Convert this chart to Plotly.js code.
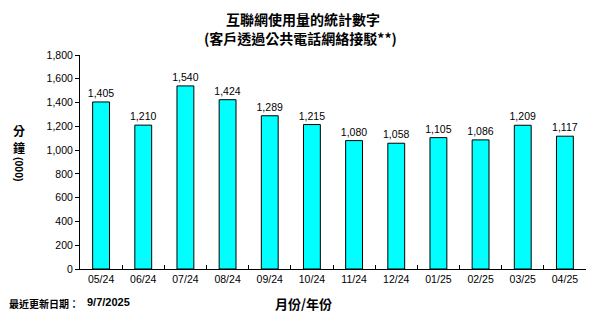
<!DOCTYPE html>
<html>
<head>
<meta charset="utf-8">
<script src="https://cdn.plot.ly/plotly-3.0.1.min.js"></script>
<style>html,body{margin:0;padding:0;background:#fff;}</style>
</head>
<body>
<div id="chart" style="width:606px;height:316px;"></div>
<script>
const months = ["05/24","06/24","07/24","08/24","09/24","10/24","11/24","12/24","01/25","02/25","03/25","04/25"];
const minutes = [1405,1210,1540,1424,1289,1215,1080,1058,1105,1086,1209,1117];
const yTicks = [0,200,400,600,800,1000,1200,1400,1600,1800];
const titleLine1 = "互聯網使用量的統計數字";
const titleLine2 = "(客戶透過公共電話網絡接駁**)";
const xTitle = "月份/年份";
const updateLabel = "最近更新日期：";
const updateDate = "9/7/2025";

const L = 80, T = 55, W = 506, H = 214;
const px = x => (x - L) / W;
const py = y => (T + H - y) / H;
const cjk = "'Noto Sans CJK TC', 'Noto Sans CJK SC', sans-serif";
const latin = "Arial, 'Liberation Sans', sans-serif";

const trace = {
  type: 'bar',
  x: months,
  y: minutes,
  marker: {color: '#00FFFF', line: {color: '#000000', width: 1}},
  text: minutes.map(v => v.toLocaleString('en-US')),
  textposition: 'outside',
  constraintext: 'none',
  textfont: {family: latin, size: 10.5, color: '#000'},
  cliponaxis: false,
  hoverinfo: 'none'
};

const layout = {
  width: 606, height: 316,
  margin: {l: L, r: 606 - L - W, t: T, b: 316 - T - H, pad: 0},
  paper_bgcolor: '#fff', plot_bgcolor: '#fff',
  showlegend: false,
  bargap: 0.6,
  font: {family: latin, size: 10.5, color: '#000'},
  xaxis: {
    type: 'category',
    showline: true, linecolor: '#000', linewidth: 1,
    ticks: 'inside', tickson: 'boundaries', ticklen: 4, tickcolor: '#000', tickwidth: 1,
    showgrid: false, zeroline: false,
    tickfont: {family: latin, size: 10.5, color: '#000'}
  },
  yaxis: {
    range: [0, 1800],
    tickvals: yTicks,
    ticktext: yTicks.map(v => v.toLocaleString('en-US')),
    showline: true, linecolor: '#000', linewidth: 1,
    ticks: 'outside', ticklen: 4, tickcolor: '#000', tickwidth: 1,
    showgrid: false, zeroline: false,
    tickfont: {family: latin, size: 10.5, color: '#000'}
  },
  annotations: [
    {text: '<b>' + titleLine1 + '</b>', x: px(303), y: py(19), xref: 'paper', yref: 'paper', showarrow: false, xanchor: 'center', yanchor: 'middle', font: {family: cjk, size: 14, color: '#000'}},
    {text: '<b>' + titleLine2 + '</b>', x: px(300), y: py(38), xref: 'paper', yref: 'paper', showarrow: false, xanchor: 'center', yanchor: 'middle', font: {family: cjk, size: 14, color: '#000'}},
    {text: '<b>分</b>', x: px(19), y: py(130), xref: 'paper', yref: 'paper', showarrow: false, xanchor: 'center', yanchor: 'middle', font: {family: cjk, size: 12, color: '#000'}},
    {text: '<b>鐘</b>', x: px(19), y: py(147), xref: 'paper', yref: 'paper', showarrow: false, xanchor: 'center', yanchor: 'middle', font: {family: cjk, size: 12, color: '#000'}},
    {text: '<b>(000)</b>', x: px(19), y: py(169), xref: 'paper', yref: 'paper', showarrow: false, xanchor: 'center', yanchor: 'middle', textangle: 90, font: {family: latin, size: 10.5, color: '#000'}},
    {text: '<b>' + xTitle + '</b>', x: px(303), y: py(303), xref: 'paper', yref: 'paper', showarrow: false, xanchor: 'center', yanchor: 'middle', font: {family: cjk, size: 13, color: '#000'}},
    {text: '<b>' + updateLabel + '</b>', x: px(7), y: py(303), xref: 'paper', yref: 'paper', showarrow: false, xanchor: 'left', yanchor: 'middle', font: {family: cjk, size: 10, color: '#000'}},
    {text: '<b>' + updateDate + '</b>', x: px(85), y: py(302), xref: 'paper', yref: 'paper', showarrow: false, xanchor: 'left', yanchor: 'middle', font: {family: latin, size: 11, color: '#000'}}
  ]
};

Plotly.newPlot('chart', [trace], layout, {displayModeBar: false, staticPlot: true});
</script>
</body>
</html>
